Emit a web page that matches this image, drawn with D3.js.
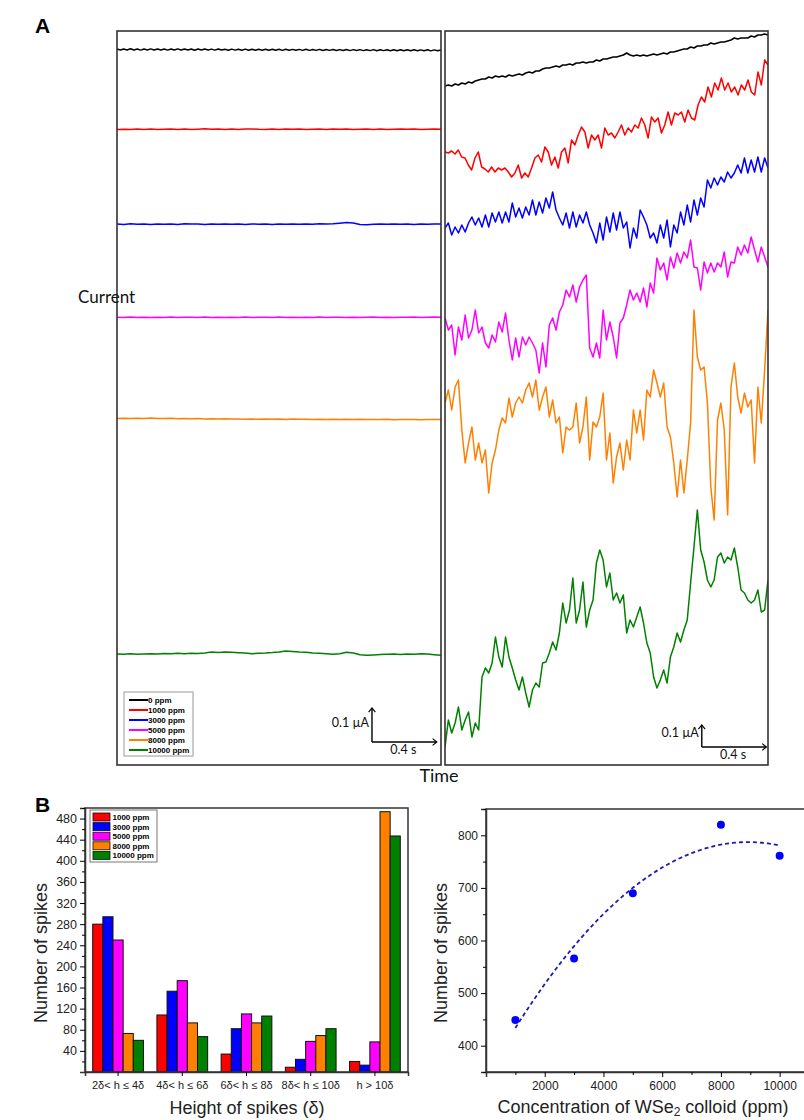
<!DOCTYPE html>
<html><head><meta charset="utf-8">
<script src="https://cdn.jsdelivr.net/npm/d3@7"></script>
<style>body{margin:0;background:#fff}svg{display:block}</style>
</head><body>
<script>
// ---------------- DATA ----------------
const concentrations = ["0 ppm","1000 ppm","3000 ppm","5000 ppm","8000 ppm","10000 ppm"];
const traceColors = ["#000000","#ff0000","#0000ff","#ff00ff","#ff8000","#008000"];
const timeSpan = 2; // s
const currentSpan = 734; // a.u.
// full-scale traces (left of panel A), current in a.u.
const full0 = [716,715,716,715,716.2,715,716,714.9,716,715,716.1,715,716,715,716,714.9,716,715,716.1,715,716,715,716,714.8,716,715,716,715,715.9,714.9,716,715,715.8,714.8,715.9,714.9,715.8,714.8,715.9,714.7,715.8,714.8,715.7,714.8,715.8,714.7,715.7,714.8,715.7,714.6,715.7,714.7,715.6,714.7,715.6,714.6,715.7,714.6,715.5,714.6,715.6,714.5,715.5,714.6,715.5,714.5,715.4,714.5,715.5,714.4,715.4,714.5,715.4,714.4,715.3,714.4,715.4,714.3,715.3,714.4,715.3,714.3,715.2,714.3,715.3,714.2,715.2,714.3,715.2,714.2,715.1,714.2,715.2,714.1,715.1,714.2,715];
const full1000 = [635.5,635.8,635.4,635.9,635.6,636,635.5,635.8,636.1,635.6,635.9,635.5,635.8,636.2,635.7,635.9,635.5,636,635.6,635.9,636.1,635.7,635.5,635.9,635.6,636,635.7,635.9,635.5,635.8,636.1,635.6,635.9,635.7,636,635.6,635.8,636.1,635.6,635.9,635.5,635.8,636,635.7,635.9,635.6,635.8,636,635.7];
const full3000 = [541,540.6,541.2,540.8,541,540.5,541.1,540.8,541,540.6,541.2,540.9,541,540.4,541,540.7,541.1,540.8,541,540.6,541.1,540.8,540.9,540.6,541.1,540.8,541,540.7,541,540.8,541.2,541,541.3,541.8,542.4,542,540.6,540.2,540.8,541,540.7,541.1,540.8,541,540.6,541,540.8,541.1,540.9];
const full5000 = [447.7,447.5,447.9,447.6,447.8,447.4,447.8,447.6,447.9,447.5,447.7,447.8,447.5,447.9,447.6,447.7,447.5,447.8,447.6,447.9,447.5,447.7,447.8,447.6,447.9,447.5,447.7,447.6,447.8,447.5,447.9,447.6,447.7,447.8,447.5,447.8,447.6,447.7,447.9,447.6,447.7,447.5,447.8,447.7,447.9,447.6,447.8,448,447.7];
const full8000 = [346.6,346.8,346.4,346.7,346.5,346.9,346.6,346.4,346.7,346.3,346.5,346.2,346.4,346.1,346.3,346,346.2,345.9,346.1,345.8,346,345.7,346,345.8,345.9,345.6,345.9,345.7,345.8,345.5,345.8,345.6,345.7,345.5,345.8,345.4,345.7,345.5,345.6,345.4,345.7,345.3,345.6,345.4,345.5,345.3,345.6,345.4,345.5];
const full10000 = [111,110.7,111.2,110.7,111,111.3,110.9,111.4,111.2,111.7,111.3,111.8,111.6,112,113,112.6,113.1,112.7,112.3,112,111.3,111.8,112,112.4,113,114,113.6,113,112.7,112,111.7,111.2,110.7,111.3,112.7,112,110.3,109.7,110,110.4,110.7,111.1,110.6,111,110.7,111.3,111,110.3,109.7];
// zoomed traces (right of panel A), current in a.u.
const zoom0 = [679,680,679,681,680,682,681,683,682,684,685,686,686,688,687,689,688,689,688,690,689,690,691,690,692,693,692,694,694,696,697,697,698,699,698,700,700,701,700,702,702,703,702,703,703,705,704,706,706,707,708,708,709,710,712,710,709,710,709,710,709,710,711,710,711,712,711,713,713,714,715,716,716,718,717,719,719,720,720,722,721,722,723,723,724,725,727,726,727,727,727,729,728,730,730,731,730];
const zoom1000 = [613,612,614,611,615,608,607,600,595,607,613,598,596,593,598,593,597,595,597,593,588,592,600,587,592,588,597,607,610,603,618,613,600,608,597,613,617,602,625,620,630,638,633,617,630,625,630,617,637,630,632,627,633,640,630,637,633,640,637,647,640,627,648,643,647,632,640,653,640,652,650,653,643,655,647,645,660,668,663,678,668,682,675,687,675,682,673,678,670,680,675,685,673,670,693,680,705,700];
const zoom3000 = [537,542,530,538,532,540,533,542,548,540,547,538,550,538,552,543,553,542,553,543,562,548,557,547,558,550,565,550,563,552,567,557,573,555,547,540,552,537,553,538,550,542,553,540,532,522,542,525,548,533,552,535,553,537,543,517,537,527,555,548,540,527,532,522,540,527,545,518,540,532,553,540,560,543,565,550,567,558,585,577,587,580,588,583,593,587,592,600,592,607,592,605,593,608,593,607,597];
const zoom5000 = [447,435,440,410,438,425,450,427,435,455,432,438,422,417,430,423,443,433,452,425,405,427,408,428,420,428,422,415,392,422,398,440,447,435,453,460,475,468,480,463,478,485,490,417,408,422,407,455,425,443,428,407,442,447,460,475,465,472,463,477,458,482,472,507,495,502,485,508,497,512,502,513,507,525,498,497,475,503,492,502,493,502,498,513,488,503,502,518,510,520,512,528,515,503,518,508,498];
const zoom8000 = [362,375,355,378,385,335,302,322,338,305,322,302,315,272,302,315,335,347,342,367,348,362,368,362,375,382,368,385,355,368,378,348,365,342,348,312,338,335,338,362,322,338,368,305,343,338,348,372,305,332,282,308,322,295,325,305,355,332,355,325,375,368,395,382,368,382,338,328,302,268,305,272,305,342,455,408,395,398,362,278,245,345,362,335,250,378,402,368,352,372,358,365,302,378,342,395,455];
const zoom10000 = [18,45,32,42,58,35,45,53,28,42,35,88,97,92,102,128,108,98,128,108,97,85,75,88,72,58,75,82,78,102,103,112,123,115,132,162,142,155,187,142,155,183,138,155,165,202,215,205,178,192,165,172,162,170,132,145,138,148,158,142,122,112,88,77,85,95,82,108,118,132,123,135,145,182,218,255,215,203,185,178,185,208,212,202,208,205,217,198,175,172,165,162,165,175,153,155,185];
// scale bars (a.u. per 0.1 µA, and 0.4 s)
const scaleBarTime = 0.4;
const scaleBarFull = 34, scaleBarZoom = 22;
const scaleBarLabels = ["0.1 µA","0.4 s"];

// Panel B: histogram
const heightBins = ["2δ< h ≤ 4δ","4δ< h ≤ 6δ","6δ< h ≤ 8δ","8δ< h ≤ 10δ","h > 10δ"];
const spikeSeries = ["1000 ppm","3000 ppm","5000 ppm","8000 ppm","10000 ppm"];
const spikeColors = ["#ff0000","#0000ff","#ff00ff","#ff8000","#008000"];
const spikes1000 = [280,108,34,9,20];
const spikes3000 = [294,153,82,24,13];
const spikes5000 = [250,173,110,58,57];
const spikes8000 = [73,93,93,69,493];
const spikes10000 = [60,67,106,82,447];
const histTicks = [40,80,120,160,200,240,280,320,360,400,440,480];

// Panel B: total spikes vs concentration
const colloidConc = [1000,3000,5000,8000,10000];
const totalSpikes = [449,566,690,820,761];
const concTicks = [2000,4000,6000,8000,10000];
const totalTicks = [400,500,600,700,800];

// ---------------- DRAW ----------------
const W = 804, H = 1120;
const svg = d3.select("body").append("svg").attr("width", W).attr("height", H)
  .style("font-family", "'Liberation Sans', Arial, sans-serif");
const calib = "Lato, 'Open Sans', sans-serif";

const defs = svg.append("defs");
defs.append("marker").attr("id","arr").attr("viewBox","-6 -6 12 12")
  .attr("refX",0).attr("refY",0).attr("markerWidth",10).attr("markerHeight",10)
  .attr("markerUnits","userSpaceOnUse").attr("orient","auto")
  .append("path").attr("d","M-5,-4 L0,0 L-5,4").attr("fill","none")
  .attr("stroke","#000").attr("stroke-width",1.4);

svg.append("text").attr("x",35).attr("y",33).attr("font-size",21).attr("font-weight","bold").text("A");
svg.append("text").attr("x",35).attr("y",812).attr("font-size",21).attr("font-weight","bold").text("B");

const panelTop = 31, panelBottom = 765;
function tracePanel(x0, x1, traces, sb, sbT0, sbV0, id) {
  const x = d3.scaleLinear().domain([0, timeSpan]).range([x0, x1]);
  const y = d3.scaleLinear().domain([0, currentSpan]).range([panelBottom, panelTop]);
  defs.append("clipPath").attr("id", id).append("rect")
    .attr("x", x0).attr("y", panelTop).attr("width", x1 - x0).attr("height", panelBottom - panelTop);
  const g = svg.append("g").attr("clip-path", `url(#${id})`);
  traces.forEach((vals, k) => {
    const line = d3.line().x((d, i) => x(i * timeSpan / (vals.length - 1))).y(d => y(d));
    g.append("path").datum(vals).attr("d", line).attr("fill","none")
      .attr("stroke", traceColors[k]).attr("stroke-width", 1.5).attr("stroke-linejoin","round");
  });
  svg.append("rect").attr("x", x0).attr("y", panelTop).attr("width", x1 - x0).attr("height", panelBottom - panelTop)
    .attr("fill","none").attr("stroke","#333").attr("stroke-width",1.6);
  // scale bar
  const ox = x(sbT0), oy = y(sbV0);
  svg.append("line").attr("x1", ox).attr("y1", oy).attr("x2", ox).attr("y2", y(sbV0 + sb))
    .attr("stroke","#000").attr("stroke-width",1.4).attr("marker-end","url(#arr)");
  svg.append("line").attr("x1", ox).attr("y1", oy).attr("x2", x(sbT0 + scaleBarTime)).attr("y2", oy)
    .attr("stroke","#000").attr("stroke-width",1.4).attr("marker-end","url(#arr)");
  svg.append("text").attr("x", ox - 3).attr("y", y(sbV0 + sb * 0.45)).attr("text-anchor","end")
    .attr("font-family", calib).attr("font-size",12.5).attr("fill","#111").text(scaleBarLabels[0]);
  svg.append("text").attr("x", (ox + x(sbT0 + scaleBarTime)) / 2 - 1).attr("y", oy + 12).attr("text-anchor","middle")
    .attr("font-family", calib).attr("font-size",12.5).attr("fill","#111").text(scaleBarLabels[1]);
  return {x, y};
}
tracePanel(117, 441, [full0, full1000, full3000, full5000, full8000, full10000], scaleBarFull, 1.574, 23, "clipL");
tracePanel(445, 768, [zoom0, zoom1000, zoom3000, zoom5000, zoom8000, zoom10000], scaleBarZoom, 1.59, 18, "clipR");

// legend panel A
const legA = svg.append("g").attr("transform","translate(124,692)");
legA.append("rect").attr("width",69).attr("height",64).attr("fill","#fff").attr("stroke","#999").attr("stroke-width",1);
concentrations.forEach((c, i) => {
  const yy = 8 + i * 10;
  legA.append("line").attr("x1",5).attr("x2",24).attr("y1",yy).attr("y2",yy).attr("stroke",traceColors[i]).attr("stroke-width",2);
  legA.append("text").attr("x",24).attr("y",yy + 3).attr("font-size",8).attr("font-weight","bold").text(c);
});

svg.append("text").attr("x",78).attr("y",303).attr("font-family",calib).attr("font-size",17).attr("fill","#111").text("Current");
svg.append("text").attr("x",439).attr("y",782).attr("text-anchor","middle").attr("font-family",calib).attr("font-size",18).attr("fill","#111").text("Time");

// ---------- histogram ----------
const hx0 = 85, hx1 = 408, hy0 = 808, hy1 = 1072;
const xb = d3.scaleBand().domain(heightBins).range([hx0, hx1]).paddingInner(0.21).paddingOuter(0.12);
const xs = d3.scaleBand().domain(spikeSeries).range([0, xb.bandwidth()]);
const yh = d3.scaleLinear().domain([0, 500]).range([hy1, hy0]);
const seriesVals = [spikes1000, spikes3000, spikes5000, spikes8000, spikes10000];
const hg = svg.append("g");
heightBins.forEach((b, j) => {
  spikeSeries.forEach((s, k) => {
    const v = seriesVals[k][j];
    hg.append("rect").attr("x", xb(b) + xs(s)).attr("y", yh(v)).attr("width", xs.bandwidth())
      .attr("height", yh(0) - yh(v)).attr("fill", spikeColors[k]).attr("stroke","#111").attr("stroke-width",1);
  });
});
svg.append("rect").attr("x",hx0).attr("y",hy0).attr("width",hx1-hx0).attr("height",hy1-hy0)
  .attr("fill","none").attr("stroke","#333").attr("stroke-width",1.5);
const axL = svg.append("g").attr("transform",`translate(${hx0},0)`)
  .call(d3.axisLeft(yh).tickValues(histTicks).tickSize(5).tickPadding(3));
svg.append("g").attr("transform",`translate(${hx0},0)`)
  .call(d3.axisLeft(yh).tickValues(histTicks.map(t => t - 20).concat([500])).tickSize(3).tickFormat(""))
  .call(g => g.select(".domain").remove());
const axB = svg.append("g").attr("transform",`translate(0,${hy1})`)
  .call(d3.axisBottom(xb).tickSize(4).tickPadding(5));
[axL, axB].forEach(a => { a.select(".domain").attr("stroke","#333").attr("stroke-width",1.5);
  a.selectAll("text").attr("fill","#222").attr("font-family","'Liberation Sans', Arial, sans-serif"); });
axL.selectAll("text").attr("font-size",12.5);
axB.selectAll("text").attr("font-size",11);
svg.append("text").attr("transform","translate(47,953) rotate(-90)").attr("text-anchor","middle")
  .attr("font-size",18).attr("fill","#222").text("Number of spikes");
svg.append("text").attr("x",247).attr("y",1114).attr("text-anchor","middle")
  .attr("font-size",18).attr("fill","#222").text("Height of spikes (δ)");
const legB = svg.append("g").attr("transform","translate(90,810)");
legB.append("rect").attr("width",67).attr("height",52).attr("fill","#fff").attr("stroke","#777").attr("stroke-width",1);
spikeSeries.forEach((s, i) => {
  const yy = 3 + i * 9.6;
  legB.append("rect").attr("x",3).attr("y",yy).attr("width",17).attr("height",8).attr("fill",spikeColors[i]).attr("stroke","#111").attr("stroke-width",0.8);
  legB.append("text").attr("x",22.5).attr("y",yy + 7).attr("font-size",8).attr("font-weight","bold").text(s);
});

// ---------- scatter ----------
const sx0 = 486, sx1 = 809, sy0 = 809, sy1 = 1072;
const xc = d3.scaleLinear().domain([0, 11000]).range([sx0, sx1]);
const yc = d3.scaleLinear().domain([350, 850]).range([sy1, sy0]);
svg.append("rect").attr("x",sx0).attr("y",sy0).attr("width",sx1-sx0).attr("height",sy1-sy0)
  .attr("fill","none").attr("stroke","#333").attr("stroke-width",1.5);
const axSL = svg.append("g").attr("transform",`translate(${sx0},0)`)
  .call(d3.axisLeft(yc).tickValues(totalTicks).tickSize(5).tickPadding(3));
svg.append("g").attr("transform",`translate(${sx0},0)`)
  .call(d3.axisLeft(yc).tickValues(totalTicks.map(t => t + 50).concat([350])).tickSize(3).tickFormat(""))
  .call(g => g.select(".domain").remove());
const axSB = svg.append("g").attr("transform",`translate(0,${sy1})`)
  .call(d3.axisBottom(xc).tickValues(concTicks).tickSize(5).tickPadding(4).tickFormat(d3.format("d")));
svg.append("g").attr("transform",`translate(0,${sy1})`)
  .call(d3.axisBottom(xc).tickValues(concTicks.map(t => t - 1000)).tickSize(3).tickFormat(""))
  .call(g => g.select(".domain").remove());
[axSL, axSB].forEach(a => { a.select(".domain").attr("stroke","#333").attr("stroke-width",1.5);
  a.selectAll("text").attr("fill","#222").attr("font-size",12).attr("font-family","'Liberation Sans', Arial, sans-serif"); });

// quadratic least-squares fit of the points
function quadFit(xs_, ys_) {
  const n = xs_.length; let S = [0,0,0,0,0], T = [0,0,0];
  for (let i = 0; i < n; i++) { const xv = xs_[i] / 1000; for (let p = 0; p < 5; p++) S[p] += Math.pow(xv, p);
    for (let p = 0; p < 3; p++) T[p] += ys_[i] * Math.pow(xv, p); }
  const M = [[S[0],S[1],S[2],T[0]],[S[1],S[2],S[3],T[1]],[S[2],S[3],S[4],T[2]]];
  for (let c = 0; c < 3; c++) { for (let r = c + 1; r < 3; r++) { const f = M[r][c] / M[c][c];
    for (let k = c; k < 4; k++) M[r][k] -= f * M[c][k]; } }
  const co = [0,0,0];
  for (let r = 2; r >= 0; r--) { let s = M[r][3]; for (let k = r + 1; k < 3; k++) s -= M[r][k] * co[k]; co[r] = s / M[r][r]; }
  return xv => co[0] + co[1] * (xv / 1000) + co[2] * (xv / 1000) ** 2;
}
const fit = quadFit(colloidConc, totalSpikes);
const fitX = d3.range(colloidConc[0], colloidConc[colloidConc.length - 1] + 1, 100);
svg.append("path").datum(fitX).attr("d", d3.line().x(d => xc(d)).y(d => yc(fit(d))))
  .attr("fill","none").attr("stroke","#1c1cb0").attr("stroke-width",1.8).attr("stroke-dasharray","4,3");
svg.append("g").selectAll("circle").data(colloidConc).join("circle")
  .attr("cx", d => xc(d)).attr("cy", (d, i) => yc(totalSpikes[i])).attr("r", 4).attr("fill","#0000ff");
svg.append("text").attr("transform","translate(447,953) rotate(-90)").attr("text-anchor","middle")
  .attr("font-size",18).attr("fill","#222").text("Number of spikes");
const cl = svg.append("text").attr("x",643).attr("y",1113).attr("text-anchor","middle").attr("font-size",18).attr("fill","#222");
cl.append("tspan").text("Concentration of WSe");
cl.append("tspan").attr("font-size",12).attr("dy",3).text("2");
cl.append("tspan").attr("dy",-3).text(" colloid (ppm)");
</script>
</body></html>
